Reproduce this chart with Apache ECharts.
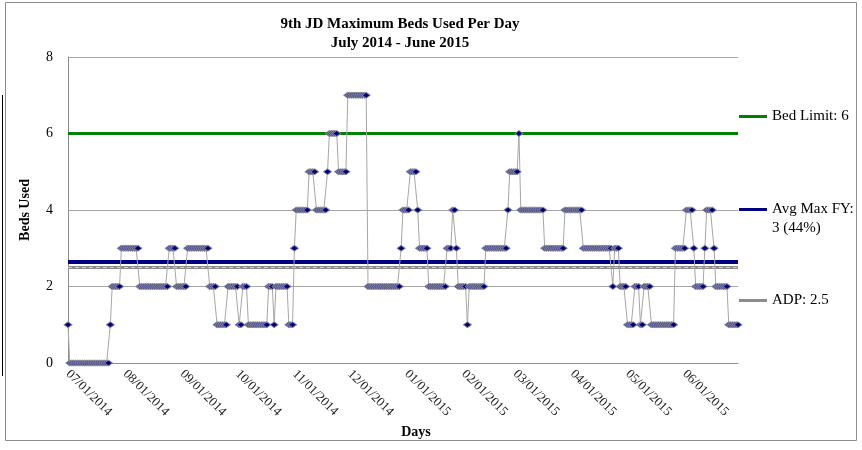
<!DOCTYPE html>
<html><head><meta charset="utf-8">
<script src="https://cdn.jsdelivr.net/npm/echarts@6/dist/echarts.min.js"></script>
<style>html,body{margin:0;padding:0;background:#fff}#c{width:862px;height:450px}</style>
</head><body><div id="c"></div>
<script>
// Daily maximum beds used, one array per month
const jul = [1, 0,0,0,0,0,0,0,0,0,0, 0,0,0,0,0,0,0,0,0,0, 0,0, 1, 2,2,2,2,2, 3,3];
const aug = [3,3,3,3,3,3,3,3, 2,2,2,2,2,2,2,2,2,2,2,2,2,2,2,2, 3,3,3,3, 2,2,2];
const sep = [2,2,2, 3,3,3,3,3,3,3,3,3,3,3,3, 2,2,2,2, 1,1,1,1,1,1, 2,2,2,2,2];
const oct = [2, 1,1, 2,2,2, 1,1,1,1,1,1,1,1,1,1,1, 2,2,2, 1, 2,2,2,2,2,2,2, 1,1,1];
const nov = [3, 4,4,4,4,4,4,4, 5,5,5,5, 4,4,4,4,4,4, 5, 6,6,6,6,6, 5,5,5,5,5, 7];
const dec = [7,7,7,7,7,7,7,7,7,7, 2,2,2,2,2,2,2,2,2,2,2,2,2,2,2,2,2,2, 3, 4,4];
const jan = [4,4, 5,5,5,5, 4, 3,3,3,3,3, 2,2,2,2,2,2,2,2,2,2, 3,3,3, 4,4, 3, 2,2,2];
const feb = [2,2, 1, 2,2,2,2,2,2,2,2,2, 3,3,3,3,3,3,3,3,3,3,3,3, 4, 5,5,5];
const mar = [5,5, 6, 4,4,4,4,4,4,4,4,4,4,4,4,4, 3,3,3,3,3,3,3,3,3,3,3, 4,4,4,4];
const apr = [4,4,4,4,4,4, 3,3,3,3,3,3,3,3,3,3,3,3,3,3,3,3, 2, 3,3,3, 2,2,2,2];
const may = [1,1,1,1, 2,2,2, 1,1, 2,2,2,2, 1,1,1,1,1,1,1,1,1,1,1,1,1, 3,3,3,3,3];
const jun = [3, 4,4,4,4, 3, 2,2,2,2,2, 3, 4,4,4,4, 3, 2,2,2,2,2,2,2, 1,1,1,1,1,1];
const values = [].concat(jul, aug, sep, oct, nov, dec, jan, feb, mar, apr, may, jun);

// Reference lines
const bedLimit = 6;
const avgMaxFY = 2.64;
const adp = 2.5;
const refNames = ['Bed Limit: 6', 'Avg Max FY: 3 (44%)', 'ADP: 2.5'];

// Day categories (MM/DD/YYYY) starting 07/01/2014
function pad(n){ return (n < 10 ? '0' : '') + n; }
const categories = [];
for (let i = 0; i < values.length; i++) {
  const d = new Date(Date.UTC(2014, 6, 1 + i));
  categories.push(pad(d.getUTCMonth() + 1) + '/' + pad(d.getUTCDate()) + '/' + d.getUTCFullYear());
}
const yMin = 0, yMax = 8, yInterval = 2;

const serif = '"Liberation Serif", "Times New Roman", serif';
const chart = echarts.init(document.getElementById('c'), null, {renderer: 'canvas'});

function refSeries(name, color, lineData) {
  return {
    name: name, type: 'line', data: [], color: color,
    lineStyle: {color: color}, itemStyle: {color: color},
    silent: true, z: 1,
    markLine: {
      silent: true, symbol: ['none', 'none'], label: {show: false},
      emphasis: {disabled: true}, animation: false,
      data: lineData
    }
  };
}

chart.setOption({
  animation: false,
  backgroundColor: '#fff',
  title: {
    text: '9th JD Maximum Beds Used Per Day\nJuly 2014 - June 2015',
    left: 395, textAlign: 'center', top: 10, padding: 5,
    textStyle: {fontFamily: serif, fontWeight: 'bold', fontSize: 15, color: '#000', lineHeight: 19}
  },
  grid: {left: 68, right: 124, top: 57, bottom: 87, containLabel: false},
  xAxis: {
    type: 'category', data: categories, boundaryGap: false,
    name: 'Days', nameLocation: 'middle', nameGap: 61,
    nameTextStyle: {fontFamily: serif, fontWeight: 'bold', fontSize: 14, color: '#000', padding: [0, 0, 0, 26]},
    axisLine: {lineStyle: {color: '#8c8c8c', width: 1}},
    axisTick: {show: false},
    axisLabel: {
      interval: function (idx, val) { return val.slice(3, 5) === '01'; },
      rotate: -45, margin: 9,
      fontFamily: serif, fontSize: 13, color: '#222'
    },
    splitLine: {show: false}
  },
  yAxis: {
    type: 'value', min: yMin, max: yMax, interval: yInterval,
    name: 'Beds Used', nameLocation: 'middle', nameGap: 36, nameRotate: 90,
    nameTextStyle: {fontFamily: serif, fontWeight: 'bold', fontSize: 14, color: '#000'},
    axisLine: {show: true, lineStyle: {color: '#8c8c8c', width: 1}},
    axisTick: {show: false},
    axisLabel: {fontFamily: serif, fontSize: 14, color: '#000', margin: 15},
    splitLine: {show: true, lineStyle: {color: '#a6a6a6', width: 1}}
  },
  legend: [
    {data: [{name: refNames[0], icon: 'rect'}], left: 739, top: 109, padding: 0, itemWidth: 28, itemHeight: 3,
     selectedMode: false, textStyle: {fontFamily: serif, fontSize: 15, color: '#000'}},
    {data: [{name: refNames[1], icon: 'rect'}], left: 739, top: 181, padding: 0, itemWidth: 28, itemHeight: 3,
     selectedMode: false, formatter: function () { return '\nAvg Max FY:\n3 (44%)'; },
     textStyle: {fontFamily: serif, fontSize: 15, color: '#000', lineHeight: 19}},
    {data: [{name: refNames[2], icon: 'rect'}], left: 739, top: 293, padding: 0, itemWidth: 28, itemHeight: 3,
     selectedMode: false, textStyle: {fontFamily: serif, fontSize: 15, color: '#000'}}
  ],
  graphic: [
    {type: 'rect', shape: {x: 5.5, y: 2.5, width: 851, height: 438}, style: {fill: null, stroke: '#8c8c8c', lineWidth: 1}, silent: true, z: -10},
    {type: 'line', shape: {x1: 2.5, y1: 95, x2: 2.5, y2: 376}, style: {stroke: '#000', lineWidth: 1}, silent: true}
  ],
  series: [
    refSeries(refNames[0], '#008000', [{yAxis: bedLimit, lineStyle: {color: '#008000', width: 3, type: 'solid'}}]),
    refSeries(refNames[1], '#000080', [{yAxis: avgMaxFY, lineStyle: {color: '#000080', width: 4, type: 'solid'}}]),
    refSeries(refNames[2], '#8c8c8c', [
      {yAxis: adp, lineStyle: {color: '#8c8c8c', width: 3, type: 'solid'}},
      {yAxis: adp, lineStyle: {color: '#d0d0d0', width: 1, type: [4, 3]}}
    ]),
    {
      name: 'Max Beds', type: 'line', data: values, z: 5,
      showSymbol: true, showAllSymbol: true,
      symbol: 'diamond', symbolSize: [8, 6],
      lineStyle: {color: '#a6a6a6', width: 1},
      itemStyle: {color: '#000080', borderColor: '#8c8c9c', borderWidth: 1},
      emphasis: {disabled: true}, silent: true
    }
  ]
});
</script></body></html>
